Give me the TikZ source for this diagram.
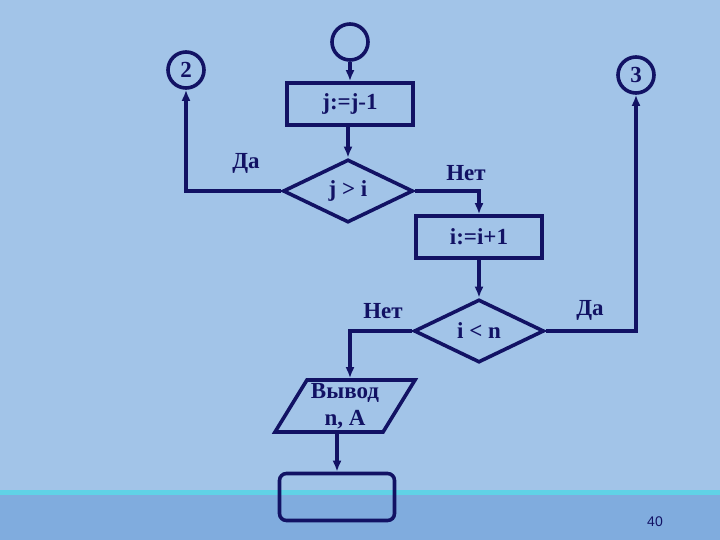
\documentclass[tikz,border=0pt]{standalone}
\usepackage{fontspec}
\setmainfont{Liberation Serif}
\newfontfamily\pagefont{Liberation Sans}
\usetikzlibrary{shapes.geometric,arrows.meta}
\definecolor{ink}{RGB}{18,18,100}
\definecolor{slide}{RGB}{162,196,232}
\definecolor{band}{RGB}{128,172,222}
\definecolor{stripe}{RGB}{96,210,230}
\begin{document}
\begin{tikzpicture}[x=1pt,y=-1pt,
  line width=3.6pt, draw=ink, text=ink,
  font=\fontsize{23}{25}\selectfont\bfseries,
  conn/.style={circle,draw,minimum size=36pt,inner sep=0pt},
  blk/.style={rectangle,draw,minimum width=126pt,minimum height=42pt},
  cond/.style={diamond,draw,minimum width=130pt,minimum height=63pt,inner sep=0pt},
  io/.style={trapezium,draw,trapezium left angle=55,trapezium right angle=125,
    trapezium stretches body,minimum width=140pt,minimum height=52pt,inner sep=0pt,
    align=center,font=\fontsize{23}{27}\selectfont\bfseries},
  stop/.style={rectangle,draw,rounded corners=7pt,minimum width=115pt,minimum height=47pt},
  arr/.style={-{Latex[length=11pt,width=9pt]}}]
% background
\fill[slide] (0,0) rectangle (720,540);
\fill[band] (0,490) rectangle (720,540);
\fill[stripe] (0,490) rectangle (720,495);
\useasboundingbox (0,0) rectangle (720,540);

\draw   (350,42) node[conn](c1){}   (186,70) node[conn](c2){2}
        (636,75) node[conn](c3){3};
\draw   (350,104) node[blk](b1){j:=j-1}   (479,237) node[blk](b2){i:=i+1};
\draw   (348,191) node[cond](d1){j > i}   (479,331) node[cond](d2){i < n};
\draw   (345,406) node[io](p1){Вывод\\n, A}   (337,497) node[stop](e1){};

% labels
\draw   (246,163) node(l1){Да}   (466,173) node(l2){Нет}
        (383,311) node(l3){Нет}   (590,310) node(l4){Да};
\draw   (655,522) node[font=\pagefont\fontsize{14}{16}\selectfont](pg){40};

\path[arr]
    (c1) edge node {} (c1 |- b1.north)
    (b1.south -| d1) edge node {} (d1)
    (b2) edge node {} (d2);
\draw[arr] (d1.west) -| (c2);
\draw[arr] (d1.east) -| (b2);
\draw[arr] (d2.west) -| (p1.north -| 350,0);
\draw[arr] (d2.east) -| (c3);
\draw[arr] (p1.south -| e1) -- (e1);
\end{tikzpicture}
\end{document}
